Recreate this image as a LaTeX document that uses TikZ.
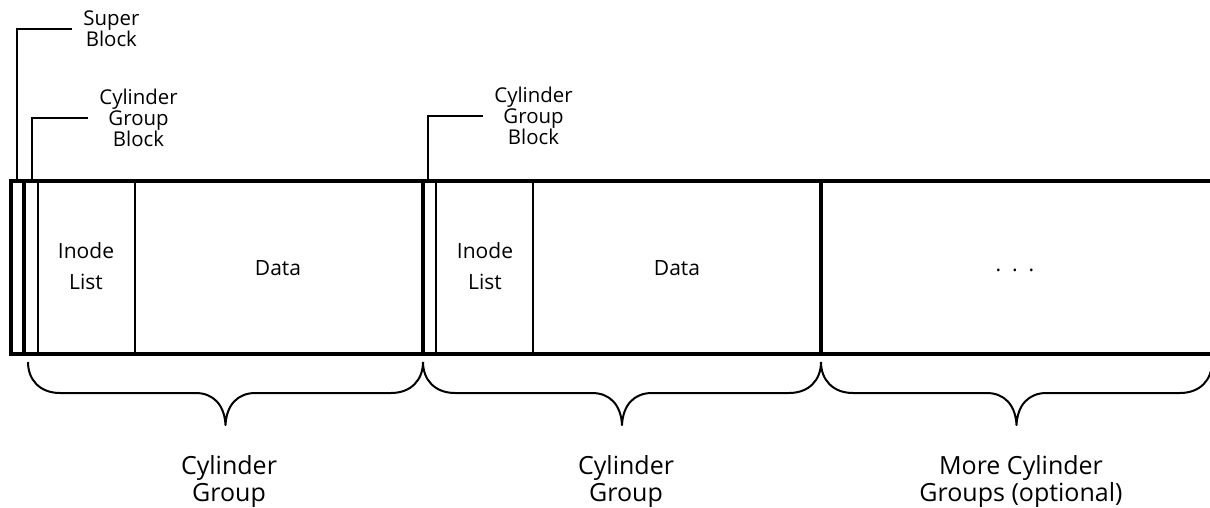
\documentclass[tikz,border=0pt]{standalone}
\usepackage{fontspec}
\setmainfont{Open Sans}
\usetikzlibrary{calc,positioning}
% brace under one cylinder group, from x=#1 to x=#2
\newcommand{\cgbrace}[2]{%
  \draw[brc] (#1,362) .. controls (#1,380) and ({#1+12},393) .. ({#1+32},393)
    -- ({(#1+#2)/2-30},393) .. controls ({(#1+#2)/2-12},393) and ({(#1+#2)/2-1},405) .. ({(#1+#2)/2},425)
    .. controls ({(#1+#2)/2+1},405) and ({(#1+#2)/2+12},393) .. ({(#1+#2)/2+30},393)
    -- ({#2-32},393) .. controls ({#2-12},393) and (#2,380) .. (#2,362);}

\begin{document}
\begin{tikzpicture}[x=0.5pt,y=-0.5pt,
  thk/.style={line width=2pt},
  thn/.style={line width=1pt},
  brc/.style={line width=1pt,line join=round},
  leader/.style={line width=1pt},
  lbl/.style={align=center,inner xsep=5.5pt,inner ysep=0pt,font=\fontsize{10.2}{10.5}\selectfont},
  cell/.style={align=center,font=\fontsize{10.5}{15.5}\selectfont},
  grp/.style={align=center,font=\fontsize{12.5}{13.5}\selectfont}]
  \useasboundingbox (0,0) rectangle (1210,508);
  % disk partition
  \draw[line width=1.6pt] (1210,181) -- (11,181) -- (11,354) -- (1210,354);
  \draw[thk] (24,181) -- (24,354);
  \draw[thn] (38,181) -- (38,354);
  \draw[thn] (135,181) -- (135,354);
  \draw[thk] (423,181) -- (423,354);
  \draw[thn] (436,181) -- (436,354);
  \draw[thn] (533,181) -- (533,354);
  \draw[thk] (821,181) -- (821,354);
  \node[cell] (inode1) at (86,266) {Inode\\List};
  \node[cell] (data1) at (278,268) {Data};
  \node[cell] (inode2) at (485,266) {Inode\\List};
  \node[cell] (data2) at (677,268) {Data};
  \node[cell] (more) at (1015,270) {.\ \ .\ \ .};
  % leaders to the labels
  \coordinate (sb) at (17,181);
  \coordinate (cgb1) at (32,181);
  \coordinate (cgb2) at (428,181);
  \node[lbl,anchor=west] (sblbl) at (72,29) {Super\\Block};
  \node[lbl,anchor=west] (cgblbl1) at (88,118) {Cylinder\\Group\\Block};
  \node[lbl,anchor=west] (cgblbl2) at (483,116) {Cylinder\\Group\\Block};
  \draw[leader] (sb) |- (sblbl.west);
  \draw[leader] (cgb1) |- (cgblbl1.west);
  \draw[leader] (cgb2) |- (cgblbl2.west);
  % groups
  \cgbrace{28}{423}
  \cgbrace{423}{821}
  \cgbrace{821}{1212}
  \node[grp] (grp1) at (229,482) {Cylinder\\Group};
  \node[grp] (grp2) at (626,482) {Cylinder\\Group};
  \node[grp] (grp3) at (1021,482) {More Cylinder\\Groups (optional)};
\end{tikzpicture}
\end{document}
